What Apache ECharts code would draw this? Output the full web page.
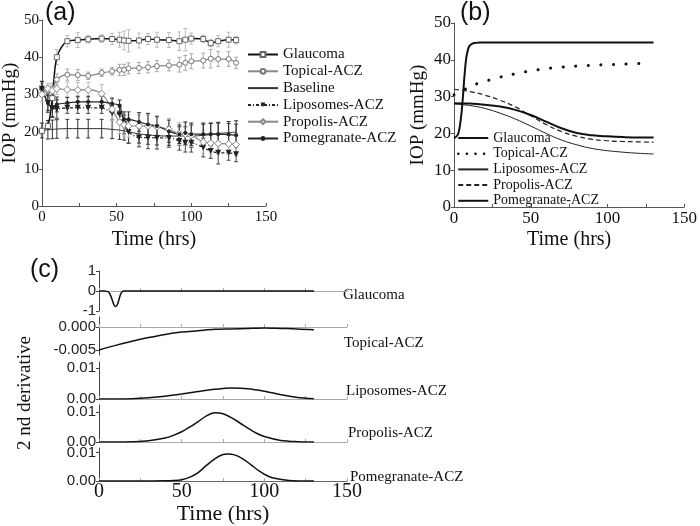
<!DOCTYPE html>
<html><head><meta charset="utf-8">
<script src="https://cdn.jsdelivr.net/npm/echarts@6/dist/echarts.min.js"></script>
<style>html,body{margin:0;padding:0;background:#fff}#c{width:700px;height:526px}</style>
</head><body><div id="c"></div>
<script>
// ---------- Panel (a): measured IOP ----------
var timeA = [0, 4, 7, 10, 17, 24, 31, 40, 47, 52, 55, 58, 65, 71, 77, 85, 92, 96, 100, 108, 113, 118, 125, 130];
var glaucomaA = [20.2, 21.5, 29, 40, 44.3, 44.6, 44.8, 45, 44.9, 44.7, 44.5, 44.4, 44.5, 44.9, 44.7, 44.6, 44.3, 44.7, 45.0, 44.9, 43.8, 44.3, 44.7, 44.6];
var glaucomaErr = [1, 1, 1.5, 2, 1.5, 2, 1, 1, 1.5, 2, 2.5, 3, 2, 1.5, 2, 2, 2.5, 3, 1.5, 1, 1, 1.5, 2, 1];
var topicalA = [31.5, 31, 31.5, 34, 35.3, 35.2, 35, 35.8, 36.2, 36.6, 36.6, 37, 37.1, 37.3, 37.6, 37.8, 38, 38.5, 38.9, 39.1, 39.6, 39.5, 39.5, 38.5];
var topicalErr = [1.5, 1.5, 1.5, 1.5, 1.5, 1.5, 1, 1, 1, 1.5, 1.5, 1.5, 1.5, 1.5, 1.5, 1.5, 2, 2, 2, 2, 2.5, 2, 2, 1.5];
var baselineA = [20.3, 20.5, 20.6, 20.7, 20.8, 20.8, 20.8, 20.8, 20.6, 20.4, 20.2, 19.9, 19.4, 19.1, 18.9, 18.8, 18.8, 18.8, 18.8, 19.0, 19.2, 19.5, 19.7, 19.9];
var baselineErr = [2, 2.5, 2.5, 2.5, 2.5, 2.5, 2.5, 2.5, 2.5, 2.5, 2.5, 3, 2.5, 2.5, 2.5, 2.5, 2.5, 2.5, 3, 3, 3, 3, 3, 3];
var liposomesA = [31.5, 27.7, 26.3, 26.1, 26.4, 26.4, 26.4, 26.4, 25.0, 24.6, 21.9, 19.9, 18.4, 18.4, 18.3, 18.3, 17.5, 17.0, 17.0, 15.7, 14.8, 14.3, 14.3, 13.9];
var liposomesErr = [2, 2, 2.5, 2.5, 1.5, 1.5, 1.5, 1.5, 2, 2, 2.5, 3, 2.5, 3, 3, 2.5, 2.5, 2.5, 2.5, 2.5, 2, 3, 2, 2];
var propolisA = [30, 31.5, 31, 31.5, 31.3, 31.2, 31.2, 30.2, 26, 22.5, 21.8, 21.5, 21.5, 21.5, 21.3, 20.6, 19.4, 19.3, 19.0, 17.2, 16.9, 16.8, 16.7, 16.5];
var propolisErr = [2, 1.5, 1.5, 1.5, 2, 2, 2, 2.5, 3, 3, 3, 3, 3, 3, 3, 3, 3, 3, 3, 3, 3, 3, 3, 3];
var pomegranateA = [31.5, 27.7, 26.5, 27.3, 27.7, 28, 28, 28, 27.5, 27, 23.3, 23.3, 22.6, 21.9, 21.5, 20.1, 19.3, 19.6, 19.3, 19.3, 19.3, 19.3, 19.2, 19.0];
var pomegranateErr = [2, 2.5, 2.5, 2, 1.5, 1.5, 1.5, 1.5, 1.5, 1.5, 2, 2, 2.5, 3, 2.5, 3, 2.5, 3, 3, 3, 3, 3, 3, 3];

// ---------- Panel (b): fitted model ----------
var timeGlaucomaB = [0, 2, 3, 4, 5, 6, 7, 8, 9, 10, 12, 14, 17, 20, 40, 60, 80, 100, 130];
var glaucomaB = [18.7, 19.3, 20.3, 22.5, 26, 31, 36.5, 40.5, 42.6, 43.7, 44.4, 44.6, 44.7, 44.7, 44.7, 44.7, 44.7, 44.7, 44.7];
var timeTopicalB = [0, 5, 10, 15, 20, 30, 40, 50, 60, 70, 80, 90, 100, 110, 122];
var topicalB = [30.5, 31.5, 32.6, 33.5, 34.1, 35.3, 36.2, 37, 37.6, 38, 38.3, 38.5, 38.7, 38.8, 39.0];
var timeB = [0, 10, 20, 30, 40, 50, 60, 70, 80, 90, 100, 110, 120, 130];
var liposomesB = [28, 27.6, 26.8, 25.5, 23.9, 22.0, 20.0, 18.2, 16.9, 15.9, 15.3, 14.9, 14.6, 14.4];
var propolisB = [32, 31.4, 30.4, 29.0, 27.2, 24.8, 22.4, 20.5, 19.2, 18.4, 18.0, 17.8, 17.7, 17.6];
var pomegranateB = [28.2, 28.1, 27.8, 27.3, 26.4, 25.0, 23.2, 21.4, 20.1, 19.5, 19.2, 19.0, 18.9, 18.9];

// ---------- Panel (c): 2nd derivative ----------
var timeC1 = [0, 3, 5, 6, 7, 8, 9, 10, 11, 12, 13, 14, 15, 20, 40, 60, 80, 100, 130];
var glaucomaC = [0, 0, -0.02, -0.08, -0.22, -0.45, -0.68, -0.78, -0.7, -0.45, -0.18, -0.04, 0, 0, 0, 0, 0, 0, 0];
var timeC = [0, 10, 20, 30, 40, 50, 60, 70, 80, 90, 100, 110, 120, 130];
var topicalC = [-0.0050, -0.0040, -0.0031, -0.0023, -0.0016, -0.0011, -0.0008, -0.0005, -0.0004, -0.0003, -0.0002, -0.0003, -0.0004, -0.0006];
var liposomesC = [0, 0, 0.0001, 0.0004, 0.0009, 0.0016, 0.0024, 0.0031, 0.0035, 0.0033, 0.0025, 0.0014, 0.0005, 0.0001];
var timeC4 = [0, 10, 20, 30, 40, 45, 50, 55, 60, 65, 70, 75, 80, 85, 90, 95, 100, 110, 120, 130];
var propolisC = [0, 0, 0.0001, 0.0004, 0.0013, 0.0022, 0.0034, 0.0050, 0.0068, 0.0087, 0.0097, 0.0094, 0.0081, 0.0064, 0.0046, 0.0030, 0.0018, 0.0005, 0.0001, 0];
var timeC5 = [0, 10, 20, 30, 40, 45, 50, 55, 60, 65, 70, 75, 78, 82, 87, 92, 97, 102, 107, 115, 130];
var pomegranateC = [0, 0, 0, 0, 0.0001, 0.0002, 0.0005, 0.0014, 0.0030, 0.0055, 0.0078, 0.0093, 0.0095, 0.0092, 0.0078, 0.0057, 0.0035, 0.0018, 0.0009, 0.0002, 0];

var namesA = ['Glaucoma', 'Topical-ACZ', 'Baseline', 'Liposomes-ACZ', 'Propolis-ACZ', 'Pomegranate-ACZ'];
var namesB = ['Glaucoma', 'Topical-ACZ', 'Liposomes-ACZ', 'Propolis-ACZ', 'Pomegranate-ACZ'];
var namesC = ['Glaucoma', 'Topical-ACZ', 'Liposomes-ACZ', 'Propolis-ACZ', 'Pomegranate-ACZ'];

var SERIF = 'Liberation Serif', SANS = 'Liberation Sans';
var NOSYM = { color: 'rgba(0,0,0,0)', borderColor: 'rgba(0,0,0,0)', borderWidth: 0 };
function pairs(xs, ys) { return xs.map(function (x, i) { return [x, ys[i]]; }); }
function bars(xs, ys, es) { return xs.map(function (x, i) { return [x, ys[i] - es[i], ys[i] + es[i]]; }); }
function errSeries(xs, ys, es, color) {
  return {
    type: 'custom', xAxisIndex: 0, yAxisIndex: 0, z: 1, silent: true,
    encode: { x: 0, y: [1, 2] },
    data: bars(xs, ys, es),
    renderItem: function (params, api) {
      var x = api.value(0);
      var p1 = api.coord([x, api.value(1)]);
      var p2 = api.coord([x, api.value(2)]);
      var w = 2, st = { stroke: color, lineWidth: 1 };
      return { type: 'group', children: [
        { type: 'line', shape: { x1: p1[0], y1: p1[1], x2: p2[0], y2: p2[1] }, style: st },
        { type: 'line', shape: { x1: p1[0] - w, y1: p1[1], x2: p1[0] + w, y2: p1[1] }, style: st },
        { type: 'line', shape: { x1: p2[0] - w, y1: p2[1], x2: p2[0] + w, y2: p2[1] }, style: st }
      ] };
    }
  };
}

var grids = [
  { left: 37.5, top: 20, width: 228.5, height: 186 },
  { left: 454, top: 23, width: 233, height: 184 },
  { left: 99, top: 271, width: 248, height: 40 },
  { left: 99, top: 317, width: 248, height: 38 },
  { left: 99, top: 362, width: 248, height: 37 },
  { left: 99, top: 405, width: 248, height: 37 },
  { left: 99, top: 448, width: 248, height: 37 }
];

function mainX(idx, labelSize, nameSize, gap, margin) {
  return {
    type: 'value', gridIndex: idx, min: 0, max: 150, interval: 50,
    axisLine: { lineStyle: { color: '#555', width: 1 } },
    axisTick: { inside: true, length: 3, lineStyle: { color: '#555' } },
    minorTick: { show: true, splitNumber: 2, length: 3, lineStyle: { color: '#555' } },
    splitLine: { show: false },
    axisLabel: { fontFamily: SERIF, fontSize: labelSize, color: '#111', margin: margin },
    name: 'Time (hrs)', nameLocation: 'middle', nameGap: gap,
    nameTextStyle: { fontFamily: SERIF, fontSize: nameSize, color: '#111' }
  };
}
function mainY(idx, labelSize, gap) {
  return {
    type: 'value', gridIndex: idx, min: 0, max: 50, interval: 10,
    axisLine: { show: true, lineStyle: { color: '#555', width: 1 } },
    axisTick: { show: true, inside: false, length: 3, lineStyle: { color: '#555' } },
    splitLine: { show: false },
    axisLabel: { fontFamily: SERIF, fontSize: labelSize, color: '#111', margin: 3 },
    name: 'IOP (mmHg)', nameLocation: 'middle', nameGap: gap,
    nameTextStyle: { fontFamily: SERIF, fontSize: 19, color: '#111' }
  };
}
var xAxes = [mainX(0, 15, 20, 24, 4), mainX(1, 17, 20, 23, 3)];
for (var k = 0; k < 5; k++) {
  var last = (k === 4);
  xAxes.push({
    type: 'value', gridIndex: 2 + k, min: 0, max: 150, interval: 50,
    axisLine: { lineStyle: { color: last ? '#666' : '#aaa', width: 1 } },
    axisTick: { inside: true, length: 3, lineStyle: { color: '#aaa' } },
    minorTick: { show: true, splitNumber: 2, length: 3, lineStyle: { color: '#aaa' } },
    splitLine: { show: false },
    axisLabel: { show: last, fontFamily: SERIF, fontSize: 20, color: '#111', margin: 1 },
    name: last ? 'Time (hrs)' : '', nameLocation: 'middle', nameGap: 20,
    nameTextStyle: { fontFamily: SERIF, fontSize: 22, color: '#111' }
  });
}
function cY(idx, min, max, ticks, dec) {
  return {
    type: 'value', gridIndex: idx, min: min, max: max,
    axisLine: { show: true, lineStyle: { color: '#444', width: 1 } },
    axisTick: { show: true, length: 3, customValues: ticks, lineStyle: { color: '#444' } },
    splitLine: { show: false },
    axisLabel: { customValues: ticks, fontFamily: SANS, fontSize: 15, color: '#222', margin: 3,
      formatter: function (v) { return dec === 0 ? String(Math.round(v)) : v.toFixed(dec); } }
  };
}
var yAxes = [mainY(0, 15, 16), mainY(1, 17, 26),
  cY(2, -1, 1, [-1, 0, 1], 0),
  cY(3, -0.0061, 0.0022, [-0.005, 0], 3),
  cY(4, 0, 0.0119, [0, 0.01], 2),
  cY(5, 0, 0.0123, [0, 0.01], 2),
  cY(6, 0, 0.0116, [0, 0.01], 2)
];

var series = [
  errSeries(timeA, glaucomaA, glaucomaErr, '#bbb'),
  errSeries(timeA, topicalA, topicalErr, '#aaa'),
  errSeries(timeA, baselineA, baselineErr, '#333'),
  errSeries(timeA, liposomesA, liposomesErr, '#444'),
  errSeries(timeA, propolisA, propolisErr, '#bbb'),
  errSeries(timeA, pomegranateA, pomegranateErr, '#333'),
  { name: namesA[0], type: 'line', xAxisIndex: 0, yAxisIndex: 0, smooth: 0.3, z: 3,
    data: pairs(timeA, glaucomaA), symbol: 'rect', symbolSize: 5,
    lineStyle: { color: '#111', width: 1.5 }, itemStyle: { color: '#fff', borderColor: '#666', borderWidth: 1 } },
  { name: namesA[1], type: 'line', xAxisIndex: 0, yAxisIndex: 0, smooth: 0.3, z: 3,
    data: pairs(timeA, topicalA), symbol: 'circle', symbolSize: 5,
    lineStyle: { color: '#888', width: 1.2 }, itemStyle: { color: '#fff', borderColor: '#777', borderWidth: 1 } },
  { name: namesA[2], type: 'line', xAxisIndex: 0, yAxisIndex: 0, smooth: 0.3, z: 3,
    data: pairs(timeA, baselineA), symbol: 'none',
    lineStyle: { color: '#333', width: 1 }, itemStyle: { color: '#333' } },
  { name: namesA[3], type: 'line', xAxisIndex: 0, yAxisIndex: 0, smooth: 0.3, z: 3,
    data: pairs(timeA, liposomesA), symbol: 'triangle', symbolRotate: 180, symbolSize: 6,
    lineStyle: { color: '#222', width: 1.2, type: [3, 2, 1, 2] }, itemStyle: { color: '#222' } },
  { name: namesA[4], type: 'line', xAxisIndex: 0, yAxisIndex: 0, smooth: 0.3, z: 3,
    data: pairs(timeA, propolisA), symbol: 'diamond', symbolSize: 7,
    lineStyle: { color: '#888', width: 1.2 }, itemStyle: { color: '#fff', borderColor: '#888', borderWidth: 1 } },
  { name: namesA[5], type: 'line', xAxisIndex: 0, yAxisIndex: 0, smooth: 0.3, z: 3,
    data: pairs(timeA, pomegranateA), symbol: 'circle', symbolSize: 4,
    lineStyle: { color: '#222', width: 1.2 }, itemStyle: { color: '#222' } },

  { name: namesB[0] + ' ', type: 'line', xAxisIndex: 1, yAxisIndex: 1, smooth: 0.4, symbol: 'none',
    data: pairs(timeGlaucomaB, glaucomaB), lineStyle: { color: '#111', width: 2 }, itemStyle: { color: '#111' } },
  { name: namesB[1] + ' ', type: 'line', xAxisIndex: 1, yAxisIndex: 1, smooth: 0.4, symbol: 'none',
    data: pairs(timeTopicalB, topicalB), lineStyle: { color: '#111', width: 3, type: [0.1, 12.5], cap: 'round' }, itemStyle: { color: '#111' } },
  { name: namesB[2] + ' ', type: 'line', xAxisIndex: 1, yAxisIndex: 1, smooth: 0.4, symbol: 'none',
    data: pairs(timeB, liposomesB), lineStyle: { color: '#222', width: 1 }, itemStyle: { color: '#222' } },
  { name: namesB[3] + ' ', type: 'line', xAxisIndex: 1, yAxisIndex: 1, smooth: 0.4, symbol: 'none',
    data: pairs(timeB, propolisB), lineStyle: { color: '#222', width: 1.2, type: [5, 3] }, itemStyle: { color: '#222' } },
  { name: namesB[4] + ' ', type: 'line', xAxisIndex: 1, yAxisIndex: 1, smooth: 0.4, symbol: 'none',
    data: pairs(timeB, pomegranateB), lineStyle: { color: '#111', width: 2 }, itemStyle: { color: '#111' } },

  { type: 'line', xAxisIndex: 2, yAxisIndex: 2, smooth: 0.3, symbol: 'none', data: pairs(timeC1, glaucomaC), lineStyle: { color: '#111', width: 1.5 } },
  { type: 'line', xAxisIndex: 3, yAxisIndex: 3, smooth: 0.3, symbol: 'none', data: pairs(timeC, topicalC), lineStyle: { color: '#111', width: 1.5 } },
  { type: 'line', xAxisIndex: 4, yAxisIndex: 4, smooth: 0.3, symbol: 'none', data: pairs(timeC, liposomesC), lineStyle: { color: '#111', width: 1.5 } },
  { type: 'line', xAxisIndex: 5, yAxisIndex: 5, smooth: 0.3, symbol: 'none', data: pairs(timeC4, propolisC), lineStyle: { color: '#111', width: 1.5 } },
  { type: 'line', xAxisIndex: 6, yAxisIndex: 6, smooth: 0.3, symbol: 'none', data: pairs(timeC5, pomegranateC), lineStyle: { color: '#111', width: 1.5 } }
];

var cLabelPos = [[343, 295], [344, 343], [346, 391], [348, 433], [350, 477]];
var graphics = [
  { type: 'text', left: 45, top: 1, style: { text: '(a)', font: '25px "Liberation Sans"', fill: '#111' } },
  { type: 'text', left: 460, top: 1, style: { text: '(b)', font: '25px "Liberation Sans"', fill: '#111' } },
  { type: 'text', left: 30, top: 258, style: { text: '(c)', font: '25px "Liberation Sans"', fill: '#111' } },
  { type: 'text', x: 25, y: 393, rotation: Math.PI / 2,
    style: { text: '2 nd derivative', font: '19px "Liberation Serif"', fill: '#111', align: 'center', verticalAlign: 'middle' } }
];
namesC.forEach(function (n, i) {
  graphics.push({ type: 'text', x: cLabelPos[i][0], y: cLabelPos[i][1],
    style: { text: n, font: '15px "Liberation Serif"', fill: '#111', verticalAlign: 'middle' } });
});

var legendAData = namesA.map(function (n) {
  return n === 'Baseline' ? { name: n, itemStyle: NOSYM } : { name: n };
});
var legendBData = namesB.map(function (n, i) {
  var d = { name: n + ' ', itemStyle: NOSYM };
  if (i === 1) d.lineStyle = { type: [0.1, 8.5], width: 2.5, cap: 'round' };
  return d;
});

var chart = echarts.init(document.getElementById('c'), null, { renderer: 'canvas' });
chart.setOption({
  animation: false,
  backgroundColor: '#fff',
  grid: grids,
  xAxis: xAxes,
  yAxis: yAxes,
  legend: [
    { data: legendAData, orient: 'vertical', left: 247, top: 47, padding: 0, itemWidth: 30, itemHeight: 6, itemGap: 1.8,
      textStyle: { fontFamily: SERIF, fontSize: 15, lineHeight: 15, color: '#111' } },
    { data: legendBData, orient: 'vertical', left: 457, top: 131, padding: 0, itemWidth: 30, itemHeight: 6, itemGap: 1.7,
      textStyle: { fontFamily: SERIF, fontSize: 14, lineHeight: 14, color: '#111' } }
  ],
  graphic: graphics,
  series: series
});
</script></body></html>
